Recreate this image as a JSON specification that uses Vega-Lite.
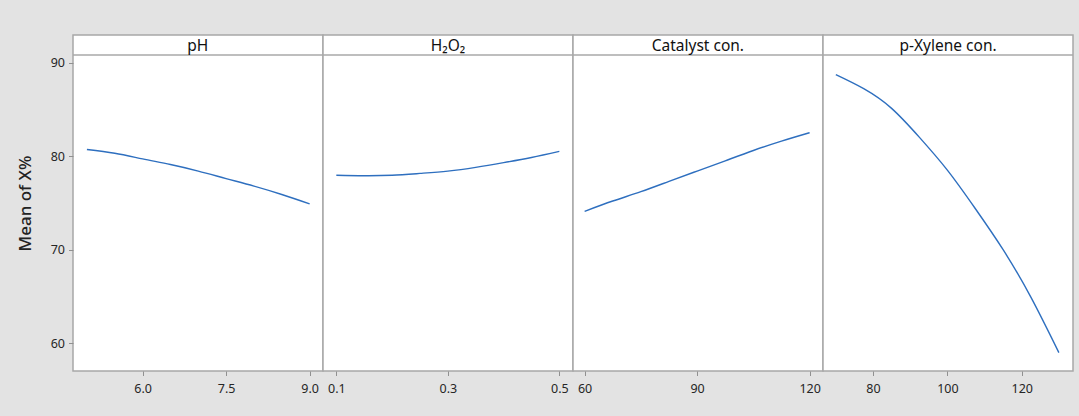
{
  "$schema": "https://vega.github.io/schema/vega-lite/v6.json",
  "background": "#e3e3e3",
  "padding": {"left": 15, "top": 34, "right": 6, "bottom": 22},
  "spacing": 0,
  "bounds": "flush",
  "config": {
    "view": {"fill": "white", "stroke": "#a8a8a8", "strokeWidth": 1.5},
    "font": "Noto Sans",
    "axis": {"labelFont": "Noto Sans", "labelFontSize": 12.5, "labelColor": "#262626", "tickColor": "#909090", "tickSize": 4.5, "tickWidth": 1, "domain": false, "grid": false, "labelPadding": 7, "titleFont": "Noto Sans", "titleFontSize": 17, "titleFontWeight": 500, "titleColor": "#222222"}
  },
  "datasets": {
    "ph": [{"x": 5, "y": 80.7}, {"x": 5.5, "y": 80.3}, {"x": 6, "y": 79.7}, {"x": 6.5, "y": 79.1}, {"x": 7, "y": 78.4}, {"x": 7.5, "y": 77.6}, {"x": 8, "y": 76.8}, {"x": 8.5, "y": 75.9}, {"x": 9, "y": 74.9}],
    "h2o2": [{"x": 0.1, "y": 77.95}, {"x": 0.15, "y": 77.9}, {"x": 0.2, "y": 77.95}, {"x": 0.25, "y": 78.15}, {"x": 0.3, "y": 78.4}, {"x": 0.35, "y": 78.8}, {"x": 0.4, "y": 79.3}, {"x": 0.45, "y": 79.85}, {"x": 0.5, "y": 80.5}],
    "catalyst": [{"x": 60, "y": 74.1}, {"x": 67.5, "y": 75.2}, {"x": 75, "y": 76.2}, {"x": 82.5, "y": 77.3}, {"x": 90, "y": 78.4}, {"x": 97.5, "y": 79.5}, {"x": 105, "y": 80.6}, {"x": 112.5, "y": 81.6}, {"x": 120, "y": 82.5}],
    "xylene": [{"x": 70, "y": 88.7}, {"x": 77.5, "y": 87.2}, {"x": 85, "y": 85.1}, {"x": 92.5, "y": 82.0}, {"x": 100, "y": 78.5}, {"x": 107.5, "y": 74.4}, {"x": 115, "y": 70.0}, {"x": 122.5, "y": 64.9}, {"x": 130, "y": 59.0}]
  },
  "hconcat": [
    {
      "width": 250, "height": 336,
      "layer": [
        {"data": {"name": "ph"}, "mark": {"type": "line", "color": "#2e6fbf", "strokeWidth": 1.4, "interpolate": "natural"},
         "encoding": {
           "x": {"field": "x", "type": "quantitative", "scale": {"domain": [4.75, 9.24], "nice": false, "zero": false}, "axis": {"values": [6, 7.5, 9], "format": ".1f", "title": null}},
           "y": {"field": "y", "type": "quantitative", "scale": {"domain": [57.04, 92.94], "nice": false, "zero": false}, "axis": {"values": [60, 70, 80, 90], "title": "Mean of X%", "labelPadding": 4, "titlePadding": 16}}}},
        {"data": {"values": [{}]}, "mark": {"type": "rule", "color": "#a8a8a8", "strokeWidth": 1.5}, "encoding": {"y": {"datum": 90.8}}},
        {"data": {"values": [{"label": "pH"}]}, "mark": {"type": "text", "fontSize": 15.5, "color": "#111111", "baseline": "alphabetic"},
         "encoding": {"text": {"field": "label"}, "x": {"datum": 6.99}, "y": {"datum": 91.23}}}
      ]
    },
    {
      "width": 250, "height": 336,
      "layer": [
        {"data": {"name": "h2o2"}, "mark": {"type": "line", "color": "#2e6fbf", "strokeWidth": 1.4, "interpolate": "natural"},
         "encoding": {
           "x": {"field": "x", "type": "quantitative", "scale": {"domain": [0.0761, 0.5245], "nice": false, "zero": false}, "axis": {"values": [0.1, 0.3, 0.5], "format": ".1f", "title": null}},
           "y": {"field": "y", "type": "quantitative", "scale": {"domain": [57.04, 92.94], "nice": false, "zero": false}, "axis": null}}},
        {"data": {"values": [{}]}, "mark": {"type": "rule", "color": "#a8a8a8", "strokeWidth": 1.5}, "encoding": {"y": {"datum": 90.8, "axis": null}}},
        {"data": {"values": [{"label": "H₂O₂"}]}, "mark": {"type": "text", "fontSize": 15.5, "color": "#111111", "baseline": "alphabetic"},
         "encoding": {"text": {"field": "label"}, "x": {"datum": 0.3003}, "y": {"datum": 91.23, "axis": null}}}
      ]
    },
    {
      "width": 250, "height": 336,
      "layer": [
        {"data": {"name": "catalyst"}, "mark": {"type": "line", "color": "#2e6fbf", "strokeWidth": 1.4, "interpolate": "natural"},
         "encoding": {
           "x": {"field": "x", "type": "quantitative", "scale": {"domain": [56.9, 123.57], "nice": false, "zero": false}, "axis": {"values": [60, 90, 120], "format": "d", "title": null}},
           "y": {"field": "y", "type": "quantitative", "scale": {"domain": [57.04, 92.94], "nice": false, "zero": false}, "axis": null}}},
        {"data": {"values": [{}]}, "mark": {"type": "rule", "color": "#a8a8a8", "strokeWidth": 1.5}, "encoding": {"y": {"datum": 90.8, "axis": null}}},
        {"data": {"values": [{"label": "Catalyst con."}]}, "mark": {"type": "text", "fontSize": 15.5, "color": "#111111", "baseline": "alphabetic"},
         "encoding": {"text": {"field": "label"}, "x": {"datum": 90.2}, "y": {"datum": 91.23, "axis": null}}}
      ]
    },
    {
      "width": 250, "height": 336,
      "layer": [
        {"data": {"name": "xylene"}, "mark": {"type": "line", "color": "#2e6fbf", "strokeWidth": 1.4, "interpolate": "natural"},
         "encoding": {
           "x": {"field": "x", "type": "quantitative", "scale": {"domain": [66.55, 133.8], "nice": false, "zero": false}, "axis": {"values": [80, 100, 120], "format": "d", "title": null}},
           "y": {"field": "y", "type": "quantitative", "scale": {"domain": [57.04, 92.94], "nice": false, "zero": false}, "axis": null}}},
        {"data": {"values": [{}]}, "mark": {"type": "rule", "color": "#a8a8a8", "strokeWidth": 1.5}, "encoding": {"y": {"datum": 90.8, "axis": null}}},
        {"data": {"values": [{"label": "p-Xylene con."}]}, "mark": {"type": "text", "fontSize": 15.5, "color": "#111111", "baseline": "alphabetic"},
         "encoding": {"text": {"field": "label"}, "x": {"datum": 100.2}, "y": {"datum": 91.23, "axis": null}}}
      ]
    }
  ]
}
